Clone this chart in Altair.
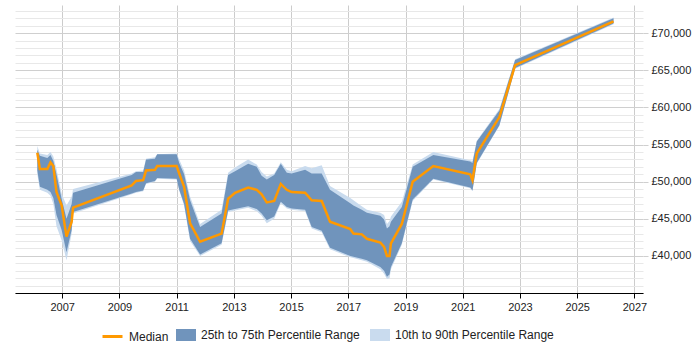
import altair as alt
import pandas as pd

# Salary percentiles over time (year as decimal)
years = [
    2006.13, 2006.22, 2006.48, 2006.59, 2006.69, 2006.80, 2006.98, 2007.15, 2007.33, 2007.38,
    2009.43, 2009.58, 2009.83, 2009.93, 2010.24, 2010.32, 2011.00, 2011.09, 2011.26, 2011.47,
    2011.82, 2012.57, 2012.80, 2013.04, 2013.50, 2013.80, 2013.97, 2014.15, 2014.41, 2014.64,
    2014.85, 2015.02, 2015.49, 2015.72, 2016.07, 2016.36, 2017.07, 2017.18, 2017.47, 2017.65,
    2018.12, 2018.25, 2018.35, 2018.44, 2018.49, 2018.87, 2019.25, 2019.97, 2021.26, 2021.34,
    2021.49, 2022.28, 2022.83, 2026.27,
]
p10 = [
    51000, 48900, 48500, 48100, 47000, 44000, 42100, 39400, 43000, 45700,
    48300, 48500, 48700, 49700, 50000, 50400, 50300, 48800, 46800, 42000,
    40000, 41500, 45900, 46100, 46500, 46000, 45400, 44400, 45000, 47100,
    46400, 46200, 46000, 43700, 43200, 40900, 39800, 39700, 39400, 39200,
    38200, 37600, 36900, 37000, 38200, 41500, 47400, 50300, 49100, 48700,
    52400, 57500, 65200, 71200,
]
p25 = [
    51500, 49300, 48900, 48600, 47800, 45500, 43500, 40500, 43500, 45900,
    48400, 48600, 48800, 49800, 50100, 50500, 50400, 48900, 47000, 42300,
    40200, 41700, 46100, 46300, 46700, 46300, 45700, 44800, 45300, 47300,
    46600, 46400, 46200, 43900, 43400, 41100, 40000, 39900, 39600, 39400,
    38500, 38000, 37200, 37500, 38500, 41700, 47600, 50400, 49200, 48800,
    52500, 57600, 65300, 71300,
]
median = [
    53900, 51700, 51700, 52600, 52100, 48600, 46800, 42600, 44600, 46500,
    49500, 50100, 50200, 51500, 51600, 52100, 52100, 51100, 49300, 44400,
    41900, 43000, 47700, 48500, 49200, 48900, 48300, 47200, 47400, 49700,
    48900, 48600, 48500, 47500, 47400, 44600, 43600, 43000, 42900, 42300,
    41800, 41200, 40000, 40000, 41700, 44300, 50000, 52100, 51000, 50200,
    53800, 58700, 65700, 71600,
]
p75 = [
    54300, 53500, 53200, 53600, 52800, 51000, 47700, 45000, 47000, 48500,
    50900, 51300, 51300, 53000, 53100, 53700, 53700, 52500, 51000, 47500,
    43900, 45700, 50900, 51400, 52400, 52000, 50800, 50300, 50900, 52400,
    51200, 51100, 51600, 51100, 51100, 48900, 47100, 46800, 46200, 45800,
    45400, 44900, 43700, 44000, 44600, 46600, 52000, 53600, 52700, 52500,
    55400, 59600, 66400, 72000,
]
p90 = [
    54800, 53800, 53600, 54000, 53400, 51700, 48400, 46800, 48000, 49000,
    51100, 51400, 51500, 53100, 53300, 53700, 53800, 53000, 51500, 48000,
    44300, 46200, 51200, 51900, 53000, 52300, 51300, 50700, 51100, 52600,
    51600, 51400, 52100, 51800, 52200, 49400, 47800, 47500, 46700, 46200,
    45800, 45500, 44300, 44700, 45300, 47300, 52300, 54000, 52900, 52800,
    55500, 59800, 66500, 72100,
]

line_name = "Median"
line_color = "#ff9900"
band_names = ["25th to 75th Percentile Range", "10th to 90th Percentile Range"]
band_colors = ["#7094bc", "#c9dbee"]
x_ticks = list(range(2007, 2028, 2))
y_grid = list(range(35000, 74000, 1000))

df = pd.DataFrame({"year": years, "p10": p10, "p25": p25, "median": median, "p75": p75, "p90": p90})

legend_common = dict(
    title=None,
    orient="none",
    direction="horizontal",
    legendY=320,
    labelFont="Liberation Sans",
    labelFontSize=12,
    labelColor="#222",
    labelOffset=5,
    columnPadding=10,
    padding=0,
)

line_legend = alt.Legend(
    legendX=86,
    symbolType="stroke",
    symbolSize=400,
    symbolStrokeWidth=3,
    **legend_common,
)
# wide flat swatch for the shaded ranges
band_legend = alt.Legend(
    legendX=161,
    symbolType="M-1,-0.6H1V0.6H-1Z",
    symbolSize=400,
    symbolStrokeWidth=0,
    symbolOpacity=1,
    **legend_common,
)

band_scale = alt.Scale(domain=band_names, range=band_colors)
line_scale = alt.Scale(domain=[line_name], range=[line_color])

x_scale = alt.Scale(domain=[2005.35, 2027.3], nice=False, zero=False)
x_axis = alt.Axis(
    title=None,
    values=x_ticks,
    format="d",
    grid=True,
    gridColor="#cccccc",
    domainColor="#000000",
    tickColor="#000000",
    tickSize=5,
    labelFont="Liberation Sans",
    labelFontSize=11,
    labelColor="#222",
    labelPadding=3,
)

major = "datum.value % 5000 === 0 && datum.value > 35000"
y_scale = alt.Scale(domain=[35000, 73800], nice=False, zero=False)
y_axis = alt.Axis(
    title=None,
    orient="right",
    values=y_grid,
    domain=False,
    grid=True,
    labelOverlap=False,
    gridColor=alt.condition("datum.value % 5000 === 0", alt.value("#cfcfcf"), alt.value("#e8e8e8")),
    tickColor=alt.condition(major, alt.value("#cfcfcf"), alt.value("transparent")),
    tickSize=5,
    labelExpr=f"({major}) ? '£' + format(datum.value, ',') : ''",
    labelFont="Liberation Sans",
    labelFontSize=11,
    labelColor="#222",
    labelPadding=3,
)

base = alt.Chart(df)
x_enc = alt.X("year:Q", scale=x_scale, axis=x_axis)

outer = base.mark_area(opacity=1).encode(
    x=x_enc,
    y=alt.Y("p10:Q", scale=y_scale, axis=y_axis),
    y2="p90:Q",
    fill=alt.Fill("band:N", scale=band_scale, legend=band_legend),
).transform_calculate(band="'10th to 90th Percentile Range'")

inner = base.mark_area(opacity=1).encode(
    x=x_enc,
    y=alt.Y("p25:Q", scale=y_scale, axis=y_axis),
    y2="p75:Q",
    fill=alt.Fill("band:N", scale=band_scale, legend=band_legend),
).transform_calculate(band="'25th to 75th Percentile Range'")

line = base.mark_line(strokeWidth=2.5).encode(
    x=x_enc,
    y=alt.Y("median:Q", scale=y_scale, axis=y_axis),
    stroke=alt.Stroke("series:N", scale=line_scale, legend=line_legend),
).transform_calculate(series="'Median'")

chart = (
    alt.layer(outer, inner, line)
    .properties(
        width=628,
        height=288,
        autosize=alt.AutoSizeParams(type="none"),
        padding={"left": 15, "top": 5, "right": 57, "bottom": 57},
        background="white",
    )
    .configure_view(stroke=None)
)

chart.save("out.html", embed_options={"renderer": "svg", "actions": False})
